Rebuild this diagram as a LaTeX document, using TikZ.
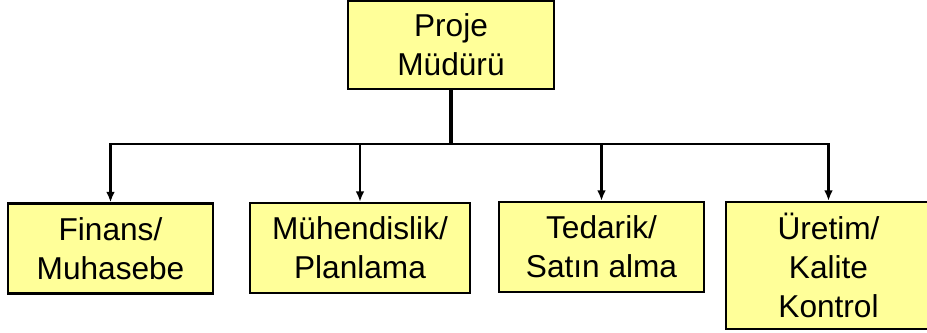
\documentclass[tikz,border=0pt]{standalone}
\usepackage{fontspec}
\setmainfont{Liberation Sans}
\usetikzlibrary{arrows.meta}
\definecolor{kutusari}{HTML}{FFFF99}

\tikzset{
	kutu/.style={draw=black, line width=1.3pt, fill=kutusari, rectangle, minimum width=4.1cm, minimum height=1.8cm, align=center, inner sep=0pt, font=\fontsize{18}{22}\selectfont},
	govde/.style={line width=2.2pt},
	kol/.style={line width=1.5pt, -{Latex[length=6pt,width=5pt]}}
}

\begin{document}
\begin{tikzpicture}[x=0.02cm, y=-0.02cm]

	\useasboundingbox (0,0) rectangle (927,333);

	\node[kutu, minimum width=4.12cm, minimum height=1.76cm] (mudur) at (451,45) {Proje\\Müdürü};

	\node[kutu] (finans) at (110.5,248.5) {Finans/\\Muhasebe};
	\node[kutu, minimum width=4.4cm] (muhendis) at (360,248) {Mühendislik/\\Planlama};
	\node[kutu] (tedarik) at (601.5,247) {Tedarik/\\Satın alma};
	\node[kutu, minimum height=2.54cm] (uretim) at (828.5,265.5) {Üretim/\\Kalite\\Kontrol};

	\coordinate (dal) at (451,144);

	\draw[govde] (mudur.south) -- (dal);
	\draw[kol] (dal) -| (finans.north);
	\draw[kol] (dal) -| (muhendis.north);
	\draw[kol] (dal) -| (tedarik.north);
	\draw[kol] (dal) -| (uretim.north);

\end{tikzpicture}
\end{document}
